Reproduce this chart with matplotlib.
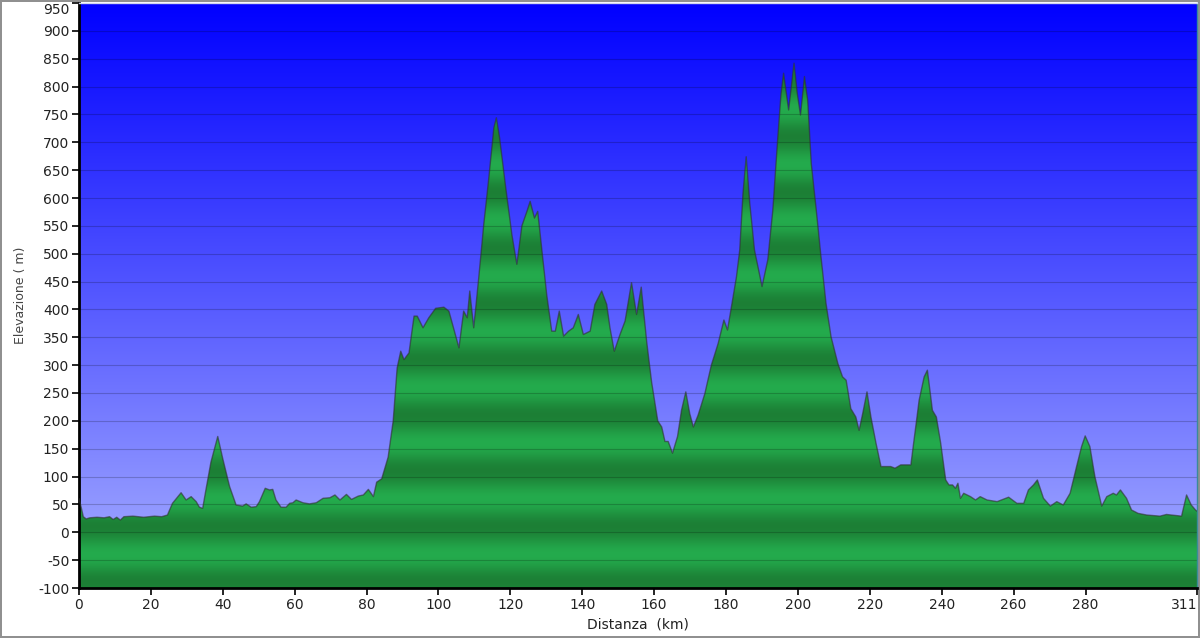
import numpy as np
import matplotlib
matplotlib.use("Agg")
import matplotlib.pyplot as plt
from matplotlib.patches import Polygon

plt.rcParams["axes.unicode_minus"] = False

# distance (km) and elevation (m) read from the profile
km = [0, 0.6, 1.2, 2, 3, 5, 7, 8.5, 9.5, 10.5, 11.5, 12.5, 15, 18, 21, 23, 24.6,
      26, 28.4, 29.8, 31.2, 32.6, 33.5, 34.4, 35.3, 36.7, 38.6, 40, 41.9, 43.7,
      45.5, 46.5, 47.9, 49.3, 50.2, 51.8, 53, 53.9, 54.8, 56.2, 57.6, 58.6, 59.5,
      60.4, 62.3, 64.1, 66, 67.9, 69.8, 71.2, 72.6, 74.4, 75.8, 77.7, 79.1, 80.5,
      81.9, 82.8, 84.2, 86, 87.4, 88.5, 89.5, 90.4, 91.8, 93.2, 94.1, 95.7, 97.3,
      99.2, 101.5, 102.9, 104.3, 105.7, 107, 108, 108.7, 109.8, 111.2, 112.6, 114,
      115.4, 116.1, 117, 118.6, 120.4, 121.8, 123.2, 124.6, 125.5, 126.7, 127.6,
      128.8, 130.1, 131.5, 132.5, 133.6, 134.8, 136.2, 137.5, 138.9, 140.3, 142.2,
      143.5, 145.4, 146.8, 147.7, 148.9, 150.5, 151.9, 153.7, 155.1, 156.4, 157.9,
      159.3, 161, 162.1, 163, 163.9, 165.1, 166.5, 167.6, 168.8, 169.9, 170.9,
      172.2, 174.1, 175.9, 177.8, 179.4, 180.4, 181.5, 182.9, 183.8, 184.7, 185.6,
      186.6, 187.9, 190, 191.6, 193, 194.4, 195.3, 196, 197.4, 198.9, 199.8, 200.7,
      201.8, 202.7, 203.7, 205, 206.4, 207.8, 209.2, 211.1, 212.4, 213.4, 214.7,
      216.1, 217, 218, 219.2, 220.3, 221.7, 223.1, 225.8, 227, 228.6, 231.4, 232.3,
      233.7, 235.1, 236, 237.4, 238.5, 239.7, 241.1, 242, 243, 243.8, 244.5, 245.2,
      246.1, 248, 249.4, 250.7, 252.6, 255.4, 258.6, 260.9, 262.8, 264.1, 265.5,
      266.6, 268.3, 270.2, 272, 273.8, 275.7, 277.5, 278.9, 279.9, 281.2, 282.6,
      284.5, 285.9, 287.7, 288.6, 289.7, 291.4, 292.8, 294.6, 297, 300.7, 302.5,
      306.7, 308.1, 309.4, 310.6, 311]
elev = [60, 45, 28, 24, 26, 27, 26, 28, 23, 27, 22, 28, 29, 27, 29, 28, 31,
        52, 71, 58, 64, 55, 45, 43, 76, 126, 172, 132, 82, 49,
        47, 51, 45, 46, 55, 79, 76, 77, 58, 45, 45, 52, 53,
        58, 53, 51, 53, 61, 62, 67, 58, 68, 59, 65, 67, 77,
        64, 90, 96, 135, 200, 295, 325, 310, 322, 388, 388, 367, 385,
        402, 404, 397, 364, 331, 397, 385, 433, 367, 457, 553, 636,
        726, 744, 708, 624, 535, 481, 550, 576, 594, 564, 576,
        505, 427, 361, 361, 397, 352, 361, 367, 391, 355, 361,
        409, 433, 409, 367, 325, 355, 379, 448, 391, 440, 343,
        269, 200, 189, 163, 163, 142, 172, 219, 252, 213, 189,
        210, 249, 300, 339, 381, 363, 405, 459, 507, 608, 674,
        590, 507, 441, 489, 578, 710, 788, 824, 758, 842, 788, 749,
        818, 776, 662, 584, 495, 411, 351, 303, 279, 273, 222,
        207, 183, 213, 252, 207, 160, 118, 118, 115, 121, 121, 166,
        237, 279, 291, 219, 207, 160, 94, 85, 85, 79, 88, 61,
        70, 64, 58, 64, 58, 55, 63, 52, 52, 76, 85,
        94, 61, 47, 55, 49, 70, 118, 154, 173, 154, 100,
        47, 64, 70, 67, 76, 61, 40, 34, 31, 29, 32,
        29, 67, 49, 40, 38]
xticks = [0, 20, 40, 60, 80, 100, 120, 140, 160, 180, 200, 220, 240, 260, 280, 311]
yticks = list(range(-100, 951, 50))

km = np.array(km)
elev = np.array(elev)

fig = plt.figure(figsize=(12, 6.38), dpi=100)
fig.patch.set_facecolor("white")
fig.patch.set_edgecolor("#909090")
fig.patch.set_linewidth(1.5)
ax = fig.add_axes([79 / 1200, 50 / 638, 1118 / 1200, 585 / 638])

# sky gradient
n = 600
t = np.linspace(0, 1, n)[:, None]
top = np.array([0.0, 0.0, 1.0])
bottom = np.array([0.66, 0.69, 1.0])
sky = (bottom * (1 - t) + top * t).reshape(n, 1, 3)
ax.imshow(sky, extent=[0, 311, -100, 950], origin="lower", aspect="auto",
          zorder=0, interpolation="bilinear")

# banded green fill clipped to the profile
e = np.linspace(-100, 950, 2100)
p = ((e - 10) % 100) / 100
b = (0.5 - 0.5 * np.cos(2 * np.pi * p))[:, None]
dark = np.array([0.11, 0.50, 0.21])
light = np.array([0.14, 0.67, 0.30])
green = (dark * (1 - b) + light * b).reshape(-1, 1, 3)
verts = np.column_stack([np.r_[km[0], km, km[-1]], np.r_[-100, elev, -100]])
poly = Polygon(verts, closed=True, facecolor="none", edgecolor="none")
ax.add_patch(poly)
img = ax.imshow(green, extent=[0, 311, -100, 950], origin="lower", aspect="auto",
                zorder=1, interpolation="bilinear")
img.set_clip_path(poly)
ax.plot(km, elev, color="#303030", lw=1.0, alpha=0.6, zorder=3)

for y in yticks:
    ax.axhline(y, color="black", lw=0.8, alpha=0.2, zorder=2)

ax.set_xlim(0, 311)
ax.set_ylim(-100, 950)
ax.set_xticks(xticks)
ax.set_yticks(yticks)
ax.tick_params(axis="both", direction="out", length=5, width=1.2, colors="black",
               labelsize=10, labelcolor="#222222", pad=2)
ax.get_xticklabels()[-1].set_horizontalalignment("right")
ax.get_yticklabels()[-1].set_verticalalignment("top")
ax.spines["left"].set_linewidth(2)
ax.spines["bottom"].set_linewidth(2)
ax.spines["top"].set_color("#d0d4f0")
ax.spines["top"].set_linewidth(1)
ax.spines["right"].set_color("#3a8a9a")
ax.spines["right"].set_linewidth(1)

ax.set_xlabel("Distanza  (km)", fontsize=10, color="#222222", labelpad=4)
ax.set_ylabel("Elevazione ( m)", fontsize=9, color="#444444", labelpad=8)

plt.savefig("out.png", dpi=100)
